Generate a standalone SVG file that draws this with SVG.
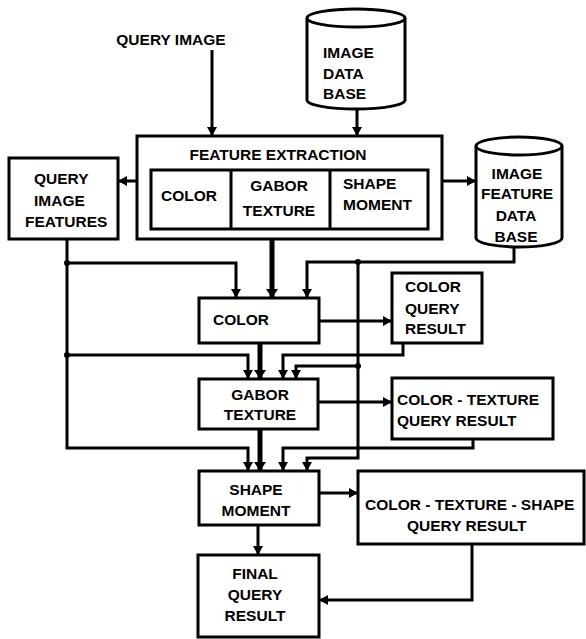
<svg xmlns="http://www.w3.org/2000/svg" width="586" height="639" viewBox="0 0 586 639">
<defs>
<style>
text{font-family:"Liberation Sans",Arial,sans-serif;font-weight:bold;font-size:15.5px;fill:#000}
.box{fill:#fff;stroke:#000;stroke-width:3}
.c{fill:none;stroke:#000;stroke-width:3}
.t{fill:none;stroke:#000;stroke-width:5}
.m{text-anchor:middle}
</style>
<marker id="a" markerUnits="userSpaceOnUse" markerWidth="9" markerHeight="10" refX="9" refY="5" orient="auto"><path d="M0,0 L9,5 L0,10 z" fill="#000"/></marker>
<marker id="b" markerUnits="userSpaceOnUse" markerWidth="9" markerHeight="12" refX="9" refY="6" orient="auto"><path d="M0,0 L9,6 L0,12 z" fill="#000"/></marker>
</defs>
<g id="query-image"><text x="171" y="44.5" class="m">QUERY IMAGE</text></g>
<g id="image-db">
<path class="box" d="M307,18 L307,100 A49,9 0 0 0 405,100 L405,18"/>
<ellipse class="box" cx="356" cy="18" rx="49" ry="9"/>
<text x="323" y="57.5">IMAGE</text><text x="323" y="78.5">DATA</text><text x="323" y="98.5">BASE</text>
</g>
<g id="feature-extraction">
<rect class="box" x="137" y="136" width="305" height="103"/>
<text x="278" y="160" class="m">FEATURE EXTRACTION</text>
<rect class="box" x="151" y="170" width="277" height="59"/>
<line class="c" x1="231" y1="170" x2="231" y2="229"/>
<line class="c" x1="330" y1="170" x2="330" y2="229"/>
<text x="189" y="200.5" class="m">COLOR</text>
<text x="279" y="190.5" class="m">GABOR</text><text x="279" y="215.5" class="m">TEXTURE</text>
<text x="343" y="189">SHAPE</text><text x="343" y="210">MOMENT</text>
</g>
<g id="query-image-features">
<rect class="box" x="9" y="158" width="109" height="81"/>
<text x="34" y="183.5">QUERY</text><text x="34" y="205.5">IMAGE</text><text x="25" y="226.5">FEATURES</text>
</g>
<g id="image-feature-db">
<path class="box" d="M476,146 L476,238 A43,9 0 0 0 562,238 L562,146"/>
<ellipse class="box" cx="519" cy="146" rx="43" ry="9"/>
<text x="517" y="178.5" class="m">IMAGE</text><text x="517" y="198.5" class="m">FEATURE</text><text x="516" y="220.5" class="m">DATA</text><text x="516" y="241.5" class="m">BASE</text>
</g>
<g id="color">
<rect class="box" x="199" y="298" width="120" height="45"/>
<text x="213" y="324.5">COLOR</text>
</g>
<g id="color-query-result">
<rect class="box" x="392" y="273" width="90" height="70"/>
<text x="405" y="291.5">COLOR</text><text x="405" y="313.5">QUERY</text><text x="405" y="333.5">RESULT</text>
</g>
<g id="gabor-texture">
<rect class="box" x="199" y="379" width="119" height="50"/>
<text x="260" y="399.5" class="m">GABOR</text><text x="260" y="419.5" class="m">TEXTURE</text>
</g>
<g id="color-texture-query-result">
<rect class="box" x="392" y="378" width="161" height="61"/>
<text x="397" y="404.5">COLOR - TEXTURE</text><text x="397" y="425.5">QUERY RESULT</text>
</g>
<g id="shape-moment">
<rect class="box" x="199" y="471" width="120" height="54"/>
<text x="256" y="494.5" class="m">SHAPE</text><text x="256" y="515.5" class="m">MOMENT</text>
</g>
<g id="color-texture-shape-query-result">
<rect class="box" x="358" y="471" width="226" height="73"/>
<text x="365" y="509.5">COLOR - TEXTURE - SHAPE</text><text x="407" y="530.5">QUERY RESULT</text>
</g>
<g id="final-query-result">
<rect class="box" x="198" y="555" width="121" height="82"/>
<text x="255" y="578.5" class="m">FINAL</text><text x="255" y="599.5" class="m">QUERY</text><text x="255" y="620.5" class="m">RESULT</text>
</g>
<g id="connectors">
<line class="c" x1="212" y1="50" x2="212" y2="136" marker-end="url(#a)"/>
<line class="c" x1="357" y1="108" x2="357" y2="136" marker-end="url(#a)"/>
<line class="c" x1="137" y1="181" x2="118" y2="181" marker-end="url(#a)"/>
<line class="c" x1="442" y1="181" x2="476" y2="181" marker-end="url(#a)"/>
<line class="t" x1="272" y1="239" x2="272" y2="298" marker-end="url(#b)"/>
<polyline class="c" points="67,239 67,448 248,448 248,471" marker-end="url(#a)"/>
<polyline class="c" points="67,263 236,263 236,298" marker-end="url(#a)"/>
<polyline class="c" points="67,355 248,355 248,379" marker-end="url(#a)"/>
<polyline class="c" points="514,247 514,262 307,262 307,298" marker-end="url(#a)"/>
<polyline class="c" points="358,262 358,458 307,458 307,471" marker-end="url(#a)"/>
<polyline class="c" points="358,366 296,366 296,379" marker-end="url(#a)"/>
<line class="c" x1="319" y1="321" x2="392" y2="321" marker-end="url(#a)"/>
<polyline class="c" points="403,343 403,355 283,355 283,379" marker-end="url(#a)"/>
<line class="t" x1="260" y1="343" x2="260" y2="379" marker-end="url(#b)"/>
<line class="c" x1="318" y1="402" x2="392" y2="402" marker-end="url(#a)"/>
<polyline class="c" points="473,439 473,448 283,448 283,471" marker-end="url(#a)"/>
<line class="t" x1="260" y1="429" x2="260" y2="471" marker-end="url(#b)"/>
<line class="c" x1="319" y1="493" x2="358" y2="493" marker-end="url(#a)"/>
<line class="c" x1="258" y1="525" x2="258" y2="555" marker-end="url(#a)"/>
<polyline class="c" points="472,544 472,600 319,600" marker-end="url(#a)"/>
<circle cx="67" cy="263" r="3"/><circle cx="67" cy="355" r="3"/><circle cx="358" cy="262" r="3"/><circle cx="358" cy="366" r="3"/>
</g>
</svg>
